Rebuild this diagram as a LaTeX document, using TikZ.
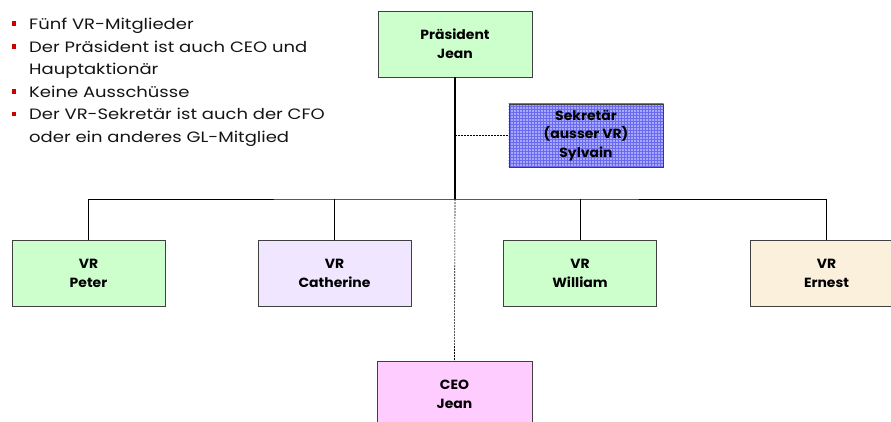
\documentclass[tikz,border=0pt]{standalone}
\usepackage{fontspec}
\setmainfont{Poppins}
\newfontfamily\bulfont[FakeStretch=1.2]{Poppins}
\newfontfamily\boxfont[FakeStretch=1.05]{Poppins}
\usetikzlibrary{patterns}
\definecolor{boxgreen}{HTML}{CCFFCC}
\definecolor{boxlav}{HTML}{F0E6FF}
\definecolor{boxbeige}{HTML}{FAF0DC}
\definecolor{boxpink}{HTML}{FFCCFF}
\definecolor{boxblue}{HTML}{A8A8FF}
\definecolor{gridblue}{HTML}{6A6AF0}
\definecolor{bulletred}{HTML}{CC0000}
\definecolor{edgegray}{HTML}{404040}
\tikzset{
  orgbox/.style={draw=edgegray, line width=0.9pt, minimum width=153pt, minimum height=66pt,
    align=center, font=\boxfont\fontsize{13.3}{18.7}\selectfont\bfseries, inner sep=0pt},
  bul/.style={anchor=base west, font=\bulfont\fontsize{15}{18}\selectfont, inner sep=0pt, text=black!92},
  sq/.style={fill=bulletred, minimum size=4.5pt, inner sep=0pt},
  conn/.style={line width=0.8pt, black},
  dconn/.style={line width=0.6pt, black, dash pattern=on 2pt off 1pt}
}
\begin{document}
\begin{tikzpicture}[x=1pt,y=-1pt]
\useasboundingbox (0,0) rectangle (891,421);
% bullets
\node[sq] (s1) at (14,23.5) {};
\node[bul] (t1) at (29,29.3) {Fünf VR-Mitglieder};
\node[sq] (s2) at (14,46.5) {};
\node[bul] (t2) at (29,52.3) {Der Präsident ist auch CEO und};
\node[bul] (t3) at (29,74.8) {Hauptaktionär};
\node[sq] (s4) at (14,91.5) {};
\node[bul] (t4) at (29,97.3) {Keine Ausschüsse};
\node[sq] (s5) at (14,114) {};
\node[bul] (t5) at (29,119.8) {Der VR-Sekretär ist auch der CFO};
\node[bul] (t6) at (29,142.3) {oder ein anderes GL-Mitglied};
% boxes
\node[orgbox, fill=boxgreen, minimum width=154pt] (pres) at (455,44) {Präsident\\Jean};
\node[orgbox, fill=boxblue, minimum width=154pt, minimum height=63pt] (sekbg) at (586,135.5) {};
\fill[pattern=grid, pattern color=gridblue] (sekbg.south west) rectangle (sekbg.north east);
\node[orgbox, minimum width=154pt, minimum height=63pt] (sek) at (586,135.5) {Sekretär\\(ausser VR)\\Sylvain};
\node[orgbox, fill=boxgreen] (peter) at (88.5,273.5) {VR\\Peter};
\node[orgbox, fill=boxlav] (cath) at (334.5,273.5) {VR\\Catherine};
\node[orgbox, fill=boxgreen] (will) at (580,273.5) {VR\\William};
\node[orgbox, fill=boxbeige] (ern) at (826.5,273.5) {VR\\Ernest};
\node[orgbox, fill=boxpink, minimum width=155pt, minimum height=67pt] (ceo) at (454.5,394.5) {CEO\\Jean};
% connectors
\coordinate (hub) at (455,199);
\coordinate (dot) at (455,135.5);
\draw[conn, line width=1.3pt] (pres.south) -- (hub);
\draw[dconn] (dot) -- (sek.west);
\draw[conn] (peter.north) |- (hub) -| (ern.north);
\draw[conn] (cath.north) -- (cath.north |- hub);
\draw[conn] (will.north) -- (will.north |- hub);
\draw[dconn] (hub) -- (ceo.north);
\end{tikzpicture}
\end{document}
